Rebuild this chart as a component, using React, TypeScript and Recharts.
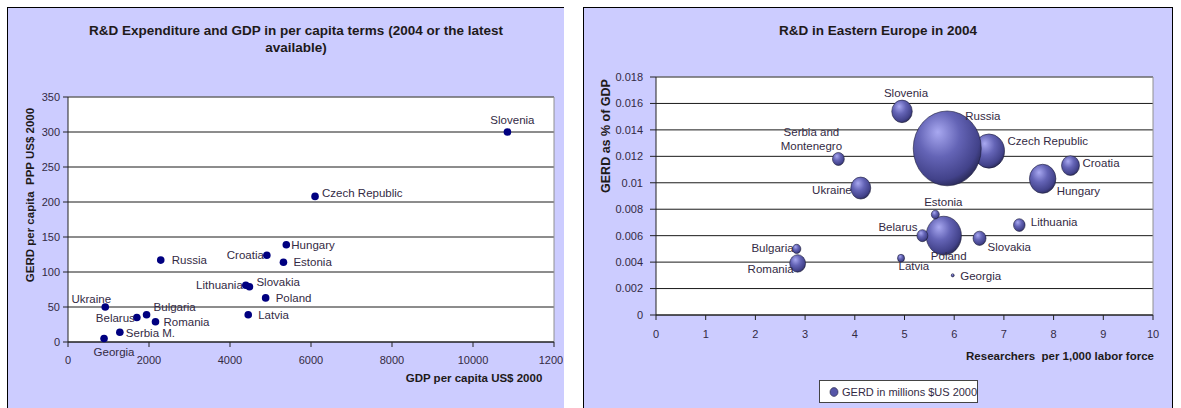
import React from "react";
import { ScatterChart, Scatter, XAxis, YAxis, ZAxis, CartesianGrid, ReferenceLine } from "recharts";

// left chart: GERD vs GDP per capita
const gdpCountries = [
  "Slovenia", "Czech Republic", "Russia", "Croatia", "Hungary", "Estonia", "Lithuania", "Slovakia",
  "Poland", "Latvia", "Ukraine", "Belarus", "Bulgaria", "Romania", "Serbia M.", "Georgia",
];
const gdpPerCapita = [10850, 6100, 2290, 4910, 5390, 5320, 4390, 4480, 4880, 4450, 920, 1700, 1940, 2160, 1280, 890];
const gerdPerCapita = [300, 208, 117, 124, 139, 114, 81, 79, 63, 39, 50, 35, 39, 29, 14, 5];
const gdpXTicks = [0, 2000, 4000, 6000, 8000, 10000, 12000];
const gdpYTicks = [0, 50, 100, 150, 200, 250, 300, 350];

// right chart: R&D in Eastern Europe 2004
const eeCountries = [
  "Slovenia", "Serbia and Montenegro", "Ukraine", "Czech Republic", "Russia", "Croatia", "Hungary", "Poland",
  "Estonia", "Belarus", "Slovakia", "Lithuania", "Latvia", "Georgia", "Bulgaria", "Romania",
];
const researchers = [4.95, 3.67, 4.12, 6.7, 5.86, 8.34, 7.78, 5.79, 5.62, 5.36, 6.51, 7.31, 4.93, 5.97, 2.83, 2.85];
const gerdShare = [0.0154, 0.0118, 0.0096, 0.0124, 0.0126, 0.0113, 0.0103, 0.006, 0.0076, 0.006, 0.0058, 0.0068, 0.0043, 0.003, 0.005, 0.0039];
const gerdMillions = [300, 100, 285, 690, 3300, 230, 500, 890, 45, 85, 120, 95, 35, 6, 50, 180];
const eeXTicks = [0, 1, 2, 3, 4, 5, 6, 7, 8, 9, 10];
const eeYTicks = [0, 0.002, 0.004, 0.006, 0.008, 0.01, 0.012, 0.014, 0.016, 0.018];

type Place = [number, number, "start" | "middle" | "end"];

// label offsets from the point centre
const leftLabelAt: Record<string, Place> = {
  Slovenia: [5, -12, "middle"],
  "Czech Republic": [7, -3, "start"],
  Russia: [11, 0, "start"],
  Croatia: [-3, 0, "end"],
  Hungary: [5, 0, "start"],
  Estonia: [10, 0, "start"],
  Lithuania: [-3, 0, "end"],
  Slovakia: [7, -5, "start"],
  Poland: [10, 0, "start"],
  Latvia: [10, 0, "start"],
  Ukraine: [-14, -8, "middle"],
  Belarus: [-2, 0, "end"],
  Bulgaria: [7, -8, "start"],
  Romania: [8, 0, "start"],
  "Serbia M.": [6, 1, "start"],
  Georgia: [10, 13, "middle"],
};

const rightLabelAt: Record<string, Place> = {
  Slovenia: [4, -18, "middle"],
  "Serbia and Montenegro": [-27, -20, "middle"],
  Ukraine: [-9, 2, "end"],
  "Czech Republic": [18.5, -10, "start"],
  Russia: [18, -32, "start"],
  Croatia: [12, -3, "start"],
  Hungary: [14, 12, "start"],
  Poland: [5, 20.5, "middle"],
  Estonia: [8, -13, "middle"],
  Belarus: [-5, -9, "end"],
  Slovakia: [8, 9, "start"],
  Lithuania: [11.5, -3, "start"],
  Latvia: [-2.5, 8, "start"],
  Georgia: [7.5, 1, "start"],
  Bulgaria: [-3, -1, "end"],
  Romania: [-4, 6, "end"],
};

const gdpData = gdpCountries.map((name, i) => ({ name, x: gdpPerCapita[i], y: gerdPerCapita[i] }));
const eeData = eeCountries.map((name, i) => ({ name, x: researchers[i], y: gerdShare[i], z: gerdMillions[i] }));

const FONT = "'Liberation Sans', Arial, sans-serif";
const TXT = "#332a44";
const PANEL = "#ccccff";
const tick = { fontSize: 11, fill: TXT, fontFamily: FONT };
const line = { stroke: "#222" };

const makeLabel = (places: Record<string, Place>) => (props: any) => {
  const { cx, cy, payload } = props;
  const p = places[payload.name] || [6, 0, "start"];
  const parts = payload.name === "Serbia and Montenegro" ? ["Serbia and", "Montenegro"] : [payload.name];
  const x = cx + p[0];
  const y0 = cy + p[1] - ((parts.length - 1) * 14) / 2;
  return (
    <text textAnchor={p[2]} fontSize={11.5} fill={TXT} fontFamily={FONT} dominantBaseline="central">
      {parts.map((t, i) => (
        <tspan key={t} x={x} y={y0 + i * 14}>{t}</tspan>
      ))}
    </text>
  );
};

const Dot = (props: any) => <circle cx={props.cx} cy={props.cy} r={3.8} fill="#000080" />;

const Bubble = (props: any) => {
  const { cx, cy, size } = props;
  const r = Math.sqrt(Math.max(size || 0, 0) / Math.PI);
  return <ellipse cx={cx} cy={cy} rx={r} ry={r * 1.1} fill="url(#bubbleFill)" stroke="#1c1c3a" strokeWidth={0.6} />;
};

const abs = (s: React.CSSProperties): React.CSSProperties => ({ position: "absolute", whiteSpace: "nowrap", ...s });

export default function App() {
  return (
    <div style={abs({ left: 0, top: 0, width: 1181, height: 408, overflow: "hidden", background: "#fff", fontFamily: FONT })}>
      {/* left panel */}
      <div style={abs({ left: 7, top: 7, width: 556, height: 420, background: PANEL, borderTop: "1px solid #000", borderLeft: "1px solid #000", overflow: "hidden" })}>
        <div style={abs({ left: 288, top: 14, transform: "translateX(-50%)", textAlign: "center", fontWeight: "bold", fontSize: 13.5, lineHeight: "17px", color: "#1e1a1a" })}>
          R&amp;D Expenditure and GDP in per capita terms (2004 or the latest
          <br />
          available)
        </div>
        <ScatterChart width={555} height={400} margin={{ top: 89, right: 9, bottom: 0, left: 0 }} style={{ position: "absolute", left: 0, top: 0 }}>
          <CartesianGrid vertical={false} stroke="#1a1a1a" fill="#fff" fillOpacity={1} />
          <XAxis type="number" dataKey="x" domain={[0, 12000]} ticks={gdpXTicks} height={66} tick={tick} tickSize={5} tickMargin={9} axisLine={line} tickLine={line} interval={0} />
          <YAxis type="number" dataKey="y" domain={[0, 350]} ticks={gdpYTicks} width={60} tick={tick} tickSize={5} tickMargin={3} axisLine={line} tickLine={line} interval={0} />
          <ReferenceLine x={12000} stroke="#909090" />
          <ReferenceLine y={350} stroke="#909090" />
          <Scatter data={gdpData} shape={Dot} isAnimationActive={false} />
          <Scatter data={gdpData} shape={makeLabel(leftLabelAt)} isAnimationActive={false} />
        </ScatterChart>
        <div style={abs({ left: 22, top: 187, transform: "translate(-50%, -50%) rotate(-90deg)", fontWeight: "bold", fontSize: 11.5, color: "#1e1a1a" })}>
          GERD per capita&nbsp; PPP US$ 2000
        </div>
        <div style={abs({ left: 466, top: 370, transform: "translate(-50%, -50%)", fontWeight: "bold", fontSize: 11.5, color: "#1e1a1a" })}>
          GDP per capita US$ 2000
        </div>
      </div>

      {/* right panel */}
      <div style={abs({ left: 583, top: 7, width: 588, height: 420, background: PANEL, borderTop: "1px solid #000", borderLeft: "1px solid #000", borderRight: "1px solid #000", overflow: "hidden" })}>
        <div style={abs({ left: 294, top: 14, transform: "translateX(-50%)", fontWeight: "bold", fontSize: 13.5, lineHeight: "17px", color: "#1e1a1a" })}>
          R&amp;D in Eastern Europe in 2004
        </div>
        <ScatterChart width={588} height={400} margin={{ top: 69, right: 19, bottom: 0, left: 0 }} style={{ position: "absolute", left: 0, top: 0 }}>
          <defs>
            <radialGradient id="bubbleFill" cx="0.4" cy="0.35" r="0.68" fx="0.36" fy="0.28">
              <stop offset="0%" stopColor="#a8a8f0" />
              <stop offset="45%" stopColor="#6464b6" />
              <stop offset="85%" stopColor="#42428a" />
              <stop offset="100%" stopColor="#2a2a58" />
            </radialGradient>
          </defs>
          <CartesianGrid vertical={false} stroke="#1a1a1a" fill="#fff" fillOpacity={1} />
          <XAxis type="number" dataKey="x" domain={[0, 10]} ticks={eeXTicks} height={93} tick={tick} tickSize={5} tickMargin={10} axisLine={line} tickLine={line} interval={0} />
          <YAxis
            type="number"
            dataKey="y"
            domain={[0, 0.018]}
            ticks={eeYTicks}
            width={72}
            tick={tick}
            tickSize={6}
            tickMargin={7}
            axisLine={line}
            tickLine={line}
            interval={0}
            tickFormatter={(v: number) => String(Number(v.toFixed(3)))}
          />
          <ZAxis type="number" dataKey="z" domain={[0, 3300]} range={[0, 3632]} />
          <ReferenceLine x={10} stroke="#909090" />
          <ReferenceLine y={0.018} stroke="#909090" />
          <Scatter data={eeData} shape={Bubble} isAnimationActive={false} />
          <Scatter data={eeData} shape={makeLabel(rightLabelAt)} isAnimationActive={false} />
        </ScatterChart>
        <div style={abs({ left: 22, top: 128, transform: "translate(-50%, -50%) rotate(-90deg)", fontWeight: "bold", fontSize: 12.5, color: "#1e1a1a" })}>
          GERD as % of GDP
        </div>
        <div style={abs({ left: 476, top: 348, transform: "translate(-50%, -50%)", fontWeight: "bold", fontSize: 11.5, color: "#1e1a1a" })}>
          Researchers&nbsp; per 1,000 labor force
        </div>
        <div style={abs({ left: 235, top: 372, width: 157, height: 21, background: "#fff", border: "1px solid #444", display: "flex", alignItems: "center", fontSize: 11, color: TXT })}>
          <svg width={22} height={14} style={{ flex: "none" }}>
            <ellipse cx={14} cy={7} rx={4} ry={4.4} fill="#5656a8" stroke="#1c1c3a" strokeWidth={0.6} />
          </svg>
          GERD in millions $US 2000
        </div>
      </div>
    </div>
  );
}
